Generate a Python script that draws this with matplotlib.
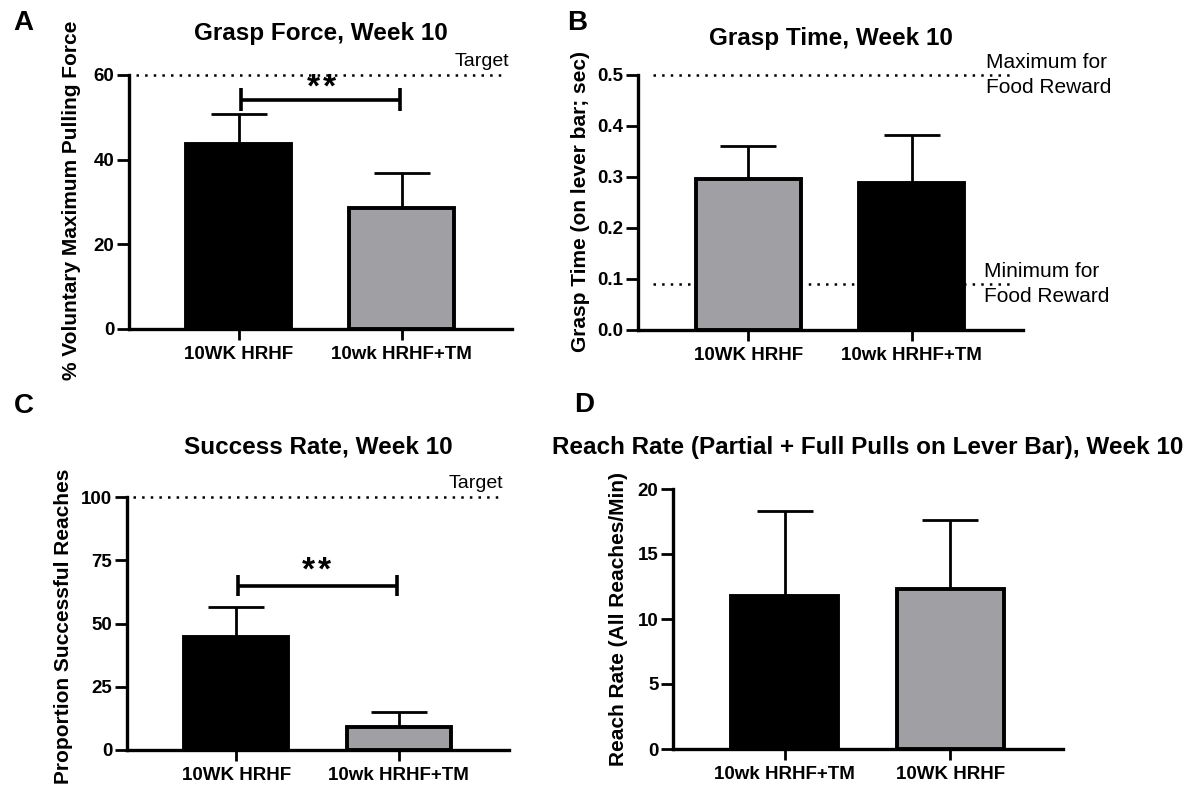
import numpy as np
import matplotlib.pyplot as plt

plt.rcParams['font.family'] = ['Liberation Sans', 'DejaVu Sans']

W, H = 1201, 786
BLACK = '#000000'
GRAY = '#a0a0a4'

# Panel A - grasp force
force_groups = ['10WK HRHF', '10wk HRHF+TM']
force_mean = [43.8, 28.7]
force_sd = [6.9, 8.2]
force_colors = [BLACK, GRAY]

# Panel B - grasp time
time_groups = ['10WK HRHF', '10wk HRHF+TM']
time_mean = [0.296, 0.288]
time_sd = [0.065, 0.094]
time_colors = [GRAY, BLACK]

# Panel C - success rate
success_groups = ['10WK HRHF', '10wk HRHF+TM']
success_mean = [44.7, 8.9]
success_sd = [11.8, 6.0]
success_colors = [BLACK, GRAY]

# Panel D - reach rate
reach_groups = ['10wk HRHF+TM', '10WK HRHF']
reach_mean = [11.8, 12.3]
reach_sd = [6.5, 5.3]
reach_colors = [BLACK, GRAY]

fig = plt.figure(figsize=(W / 100, H / 100), dpi=100)


def px_axes(left, top, right, bottom):
    return fig.add_axes([left / W, 1 - bottom / H, (right - left) / W, (bottom - top) / H])


def ftext(x, y, s, **kw):
    fig.text(x / W, 1 - y / H, s, **kw)


def bar_panel(ax, groups, mean, sd, colors, ymax, yticks, ticklabels=None):
    x = np.arange(len(groups))
    ax.errorbar(x, mean, yerr=[np.zeros(len(sd)), sd], fmt='none', ecolor='black',
                elinewidth=2.0, capsize=20, capthick=2.0, zorder=1)
    ax.bar(x, mean, width=0.64, color=colors, edgecolor='black', linewidth=2.8, zorder=3)
    ax.set_xlim(-0.672, 1.678)
    ax.set_ylim(0, ymax)
    ax.set_xticks(x)
    ax.set_xticklabels(groups, fontsize=13.5, fontweight='bold')
    ax.set_yticks(yticks)
    if ticklabels is not None:
        ax.set_yticklabels(ticklabels)
    for lab in ax.get_yticklabels():
        lab.set_fontsize(13.5)
        lab.set_fontweight('bold')
    for side in ['top', 'right']:
        ax.spines[side].set_visible(False)
    for side in ['left', 'bottom']:
        ax.spines[side].set_linewidth(2.4)
    ax.tick_params(axis='y', length=8.5, width=2.0, pad=2)
    ax.tick_params(axis='x', length=8, width=2.0, pad=4.5)
    ax.patch.set_alpha(0)


def sig_bracket(ax, y, y0, y1, star_x, star_y):
    ax.plot([0.013, 0.99], [y, y], color='black', lw=2.6, solid_capstyle='butt', zorder=4)
    for xx in [0.013, 0.99]:
        ax.plot([xx, xx], [y0, y1], color='black', lw=2.6, solid_capstyle='butt', zorder=4)
    # two asterisks, drawn apart so they don't run together
    for dx in [-0.05, 0.05]:
        ax.text(star_x + dx, star_y, '*', ha='center', va='center', fontsize=24, fontweight='bold')


dot = (0, (1, 2.45))

# A
axA = px_axes(129, 75, 512, 329)
bar_panel(axA, force_groups, force_mean, force_sd, force_colors, 60, [0, 20, 40, 60])
axA.plot([-0.626, 1.64], [60, 60], color='black', lw=1.8, linestyle=dot, zorder=0, clip_on=False)
axA.text(1.66, 62.2, 'Target', ha='right', va='baseline', fontsize=14)
sig_bracket(axA, 54.1, 51.5, 56.9, 0.508, 56.8)
axA.set_title('Grasp Force, Week 10', fontsize=17.5, fontweight='bold', pad=25)

# B
axB = px_axes(638, 75, 1023, 330)
bar_panel(axB, time_groups, time_mean, time_sd, time_colors, 0.5,
          [0, 0.1, 0.2, 0.3, 0.4, 0.5], ['0.0', '0.1', '0.2', '0.3', '0.4', '0.5'])
for yy in [0.5, 0.09]:
    axB.plot([-0.58, 1.63], [yy, yy], color='black', lw=1.8, linestyle=dot, zorder=0, clip_on=False)
axB.text(1.452, 0.5, 'Maximum for\nFood Reward', ha='left', va='center', fontsize=15,
         linespacing=1.37)
axB.text(1.44, 0.09, 'Minimum for\nFood Reward', ha='left', va='center', fontsize=15,
         linespacing=1.37)
axB.set_title('Grasp Time, Week 10', fontsize=17.5, fontweight='bold', pad=21.5)

# C
axC = px_axes(127, 497, 509, 750)
bar_panel(axC, success_groups, success_mean, success_sd, success_colors, 100, [0, 25, 50, 75, 100])
axC.plot([-0.633, 1.632], [100, 100], color='black', lw=1.8, linestyle=dot, zorder=0, clip_on=False)
axC.text(1.643, 103.6, 'Target', ha='right', va='baseline', fontsize=14)
sig_bracket(axC, 64.9, 60.7, 69.3, 0.494, 70.8)
axC.set_title('Success Rate, Week 10', fontsize=17.5, fontweight='bold', pad=31.5)

# D
axD = px_axes(673, 489, 1063, 749)
bar_panel(axD, reach_groups, reach_mean, reach_sd, reach_colors, 20, [0, 5, 10, 15, 20])
axD.set_title('Reach Rate (Partial + Full Pulls on Lever Bar), Week 10', fontsize=17.5,
              fontweight='bold', pad=25.5)

# axis labels
ftext(72, 200, '% Voluntary Maximum Pulling Force', rotation=90, ha='center', va='center',
      fontsize=15, fontweight='bold')
ftext(580, 201, 'Grasp Time (on lever bar; sec)', rotation=90, ha='center', va='center',
      fontsize=15, fontweight='bold')
ftext(64, 626, 'Proportion Successful Reaches', rotation=90, ha='center', va='center',
      fontsize=15, fontweight='bold')
ftext(619, 619, 'Reach Rate (All Reaches/Min)', rotation=90, ha='center', va='center',
      fontsize=15, fontweight='bold')

# panel letters
for letter, (lx, ly) in zip('ABCD', [(13, 29.5), (567, 29.5), (14, 413), (574, 412)]):
    ftext(lx, ly, letter, ha='left', va='baseline', fontsize=20, fontweight='bold')

fig.savefig('out.png', dpi=100)
